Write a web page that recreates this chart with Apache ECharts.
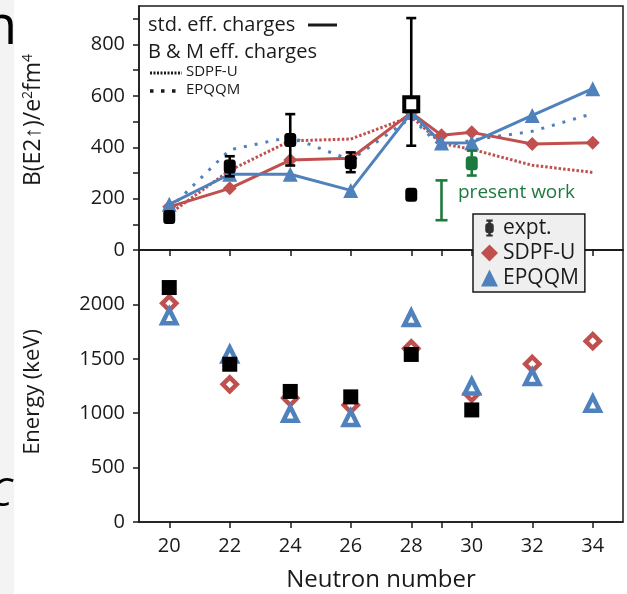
<!DOCTYPE html>
<html>
<head>
<meta charset="utf-8">
<script src="https://cdn.jsdelivr.net/npm/echarts@6/dist/echarts.min.js"></script>
<style>
  html, body { margin: 0; padding: 0; background: #fff; }
  #chart { width: 627px; height: 594px; }
</style>
</head>
<body>
<div id="chart"></div>
<script>
/* ---------- data ---------- */
const nTicks = [20, 22, 24, 26, 28, 29, 30, 32, 34];
const nLabels = [20, 22, 24, 26, 28, 30, 32, 34];

// top panel: B(E2) in e2fm4
const bN = [20, 22, 24, 26, 28, 29, 30, 32, 34];
const bSdpfStd = [168, 240, 350, 357, 535, 447, 458, 413, 418];
const bEpqqmStd = [178, 295, 295, 232, 535, 417, 418, 524, 628];
const bSdpfBM = [140, 310, 425, 432, 520, 415, 392, 330, 302];
const bEpqqmBM = [160, 390, 440, 350, 515, 400, 428, 462, 531];

const exptN = [20, 22, 24, 26, 28, 28];
const exptB = [128, 325, 428, 342, 567, 215];
const exptLo = [116, 287, 329, 303, 406, 203];
const exptHi = [141, 365, 529, 380, 903, 228];
const exptOpen = [0, 0, 0, 0, 1, 0];

const presN = [30];
const presB = [338];
const presLo = [290];
const presHi = [387];
const presKeyN = [29];
const presKeyLo = [116];
const presKeyHi = [271];

// bottom panel: 2+ energies in keV
const eN = [20, 22, 24, 26, 28, 30, 32, 34];
const eExptN = [20, 22, 24, 26, 28, 30];
const eExpt = [2155, 1450, 1200, 1150, 1540, 1030];
const eSdpf = [2010, 1265, 1140, 1075, 1595, 1180, 1452, 1662];
const eEpqqm = [1890, 1540, 995, 955, 1876, 1245, 1332, 1086];

const bTicks = [0, 100, 200, 300, 400, 500, 600, 700, 800, 900];
const bLabels = [0, 200, 400, 600, 800];
const eTicks = [0, 500, 1000, 1500, 2000];

/* ---------- style ---------- */
const FONT = "Open Sans";
const RED = "#c0504d";
const BLUE = "#4f81bd";
const GREEN = "#1d7a3e";
const INK = "#1a1a1a";

const zip = (xs, ys) => xs.map((x, i) => [x, ys[i]]);

function errBars(color, capHalf) {
  return function (params, api) {
    const x = api.value(0);
    const p1 = api.coord([x, api.value(1)]);
    const p2 = api.coord([x, api.value(2)]);
    const st = { stroke: color, lineWidth: 2.6 };
    return {
      type: "group",
      children: [
        { type: "line", shape: { x1: p1[0], y1: p1[1], x2: p2[0], y2: p2[1] }, style: st },
        { type: "line", shape: { x1: p1[0] - capHalf, y1: p1[1], x2: p1[0] + capHalf, y2: p1[1] }, style: st },
        { type: "line", shape: { x1: p2[0] - capHalf, y1: p2[1], x2: p2[0] + capHalf, y2: p2[1] }, style: st },
      ],
    };
  };
}

const axisLine = { lineStyle: { color: INK, width: 1.5 } };
const tickStyle = { lineStyle: { color: INK, width: 1.5 }, length: 6 };
const labelStyle = { color: INK, fontSize: 20, fontFamily: FONT, formatter: (v) => String(v) };

const xAxisBase = {
  type: "value", min: 19, max: 35,
  axisLine, splitLine: { show: false },
  axisTick: Object.assign({ customValues: nTicks }, tickStyle),
};

const exptIcon = "path://M3,0H9V2H7.2V3.2Q10,3.6 10,6V10Q10,12.4 7.2,12.8V14H9V16H3V14H4.8V12.8Q2,12.4 2,10V6Q2,3.6 4.8,3.2V2H3Z";

const option = {
  animation: false,
  backgroundColor: "#ffffff",
  grid: [
    { left: 139, top: 6, width: 484, height: 244, show: true, borderColor: INK, borderWidth: 1.5 },
    { left: 139, top: 250, width: 484, height: 272, show: true, borderColor: INK, borderWidth: 1.5 },
  ],
  xAxis: [
    Object.assign({ gridIndex: 0, axisLabel: { show: false } }, xAxisBase),
    Object.assign({
      gridIndex: 1,
      axisLabel: Object.assign({ customValues: nLabels, margin: 14 }, labelStyle),
      name: "Neutron number", nameLocation: "middle", nameGap: 46,
      nameTextStyle: { color: INK, fontSize: 24, fontFamily: FONT },
    }, xAxisBase),
  ],
  yAxis: [
    {
      gridIndex: 0, type: "value", min: 0, max: 950,
      axisLine, splitLine: { show: false },
      axisTick: Object.assign({ customValues: bTicks }, tickStyle),
      axisLabel: Object.assign({ customValues: bLabels, margin: 14 }, labelStyle),
    },
    {
      gridIndex: 1, type: "value", min: 0, max: 2500,
      axisLine, splitLine: { show: false },
      axisTick: Object.assign({ customValues: eTicks }, tickStyle),
      axisLabel: Object.assign({ customValues: eTicks, margin: 14 }, labelStyle),
    },
  ],
  legend: {
    left: 473, top: 214, orient: "vertical",
    backgroundColor: "#efefef", borderColor: INK, borderWidth: 1.5,
    padding: [3, 6, 3, 8], itemGap: 3, itemWidth: 17, itemHeight: 17,
    textStyle: { color: INK, fontSize: 21, fontFamily: FONT, lineHeight: 22 },
    selectedMode: false,
    data: [
      { name: "expt.", icon: exptIcon, itemStyle: { color: "#000" } },
      { name: "SDPF-U", icon: "diamond", itemStyle: { color: RED } },
      { name: "EPQQM", icon: "triangle", itemStyle: { color: BLUE } },
    ],
  },
  graphic: [
    { type: "rect", shape: { x: 0, y: 0, width: 14, height: 594 }, style: { fill: "#f3f3f3" }, z: -10 },
    { type: "text", x: 17, y: 56, style: { text: "n", font: "54px 'Open Sans'", fill: "#000", textAlign: "right", textVerticalAlign: "bottom" } },
    { type: "text", x: 12, y: 514, style: { text: "C", font: "italic 38px 'Open Sans'", fill: "#000", textAlign: "right", textVerticalAlign: "bottom" } },
    // axis titles
    { type: "text", x: 33, y: 120, rotation: Math.PI / 2,
      style: {
        text: "B(E2↑)/e{s|2}fm{s|4}", font: "23px 'Open Sans'", fill: INK,
        textAlign: "center", textVerticalAlign: "middle",
        rich: { s: { font: "14px 'Open Sans'", fill: INK, padding: [0, 0, 10, 0] } },
      } },
    { type: "text", x: 33, y: 392, rotation: Math.PI / 2,
      style: { text: "Energy (keV)", font: "22px 'Open Sans'", fill: INK, textAlign: "center", textVerticalAlign: "middle" } },
    // annotation key
    { type: "text", x: 148, y: 25, style: { text: "std. eff. charges", font: "20px 'Open Sans'", fill: INK, textVerticalAlign: "middle" } },
    { type: "line", shape: { x1: 308, y1: 25, x2: 337, y2: 25 }, style: { stroke: INK, lineWidth: 3 } },
    { type: "text", x: 148, y: 52, style: { text: "B & M eff. charges", font: "20px 'Open Sans'", fill: INK, textVerticalAlign: "middle" } },
    { type: "line", shape: { x1: 150, y1: 73, x2: 182, y2: 73 }, style: { stroke: INK, lineWidth: 3, lineDash: [2, 1.5] } },
    { type: "text", x: 186, y: 72, style: { text: "SDPF-U", font: "15px 'Open Sans'", fill: INK, textVerticalAlign: "middle" } },
    { type: "line", shape: { x1: 150, y1: 91, x2: 183, y2: 91 }, style: { stroke: INK, lineWidth: 3.5, lineDash: [3.5, 7.5] } },
    { type: "text", x: 186, y: 90, style: { text: "EPQQM", font: "15px 'Open Sans'", fill: INK, textVerticalAlign: "middle" } },
    { type: "text", x: 458, y: 193, style: { text: "present work", font: "19px 'Open Sans'", fill: GREEN, textVerticalAlign: "middle" } },
  ],
  series: [
    /* ---- top panel ---- */
    { type: "line", xAxisIndex: 0, yAxisIndex: 0, data: zip(bN, bSdpfBM), symbol: "none",
      lineStyle: { color: RED, width: 3, type: [2.5, 2] }, z: 2 },
    { type: "line", xAxisIndex: 0, yAxisIndex: 0, data: zip(bN, bEpqqmBM), symbol: "none",
      lineStyle: { color: BLUE, width: 3, type: [3, 8] }, z: 2 },
    { name: "SDPF-U", type: "line", xAxisIndex: 0, yAxisIndex: 0, data: zip(bN, bSdpfStd),
      symbol: "diamond", symbolSize: 14, itemStyle: { color: RED, opacity: 1 }, lineStyle: { color: RED, width: 3 }, z: 3 },
    { name: "EPQQM", type: "line", xAxisIndex: 0, yAxisIndex: 0, data: zip(bN, bEpqqmStd),
      symbol: "triangle", symbolSize: 15, itemStyle: { color: BLUE, opacity: 1 }, lineStyle: { color: BLUE, width: 3 }, z: 3 },
    { type: "custom", xAxisIndex: 0, yAxisIndex: 0, z: 5,
      data: exptN.map((n, i) => [n, exptLo[i], exptHi[i]]), renderItem: errBars("#000", 5) },
    { name: "expt.", type: "scatter", xAxisIndex: 0, yAxisIndex: 0, z: 6,
      data: exptN.map((n, i) => ({
        value: [n, exptB[i]],
        symbol: exptOpen[i] ? "rect" : "roundRect",
        symbolSize: exptOpen[i] ? 14 : [12, 14],
        itemStyle: exptOpen[i]
          ? { color: "#fff", borderColor: "#000", borderWidth: 4, opacity: 1 }
          : { color: "#000", opacity: 1 },
      })) },
    { type: "custom", xAxisIndex: 0, yAxisIndex: 0, z: 5,
      data: presN.map((n, i) => [n, presLo[i], presHi[i]]), renderItem: errBars(GREEN, 5) },
    { type: "custom", xAxisIndex: 0, yAxisIndex: 0, z: 5,
      data: presKeyN.map((n, i) => [n, presKeyLo[i], presKeyHi[i]]), renderItem: errBars(GREEN, 6) },
    { type: "scatter", xAxisIndex: 0, yAxisIndex: 0, z: 6, data: zip(presN, presB),
      symbol: "roundRect", symbolSize: [12, 14], itemStyle: { color: GREEN, opacity: 1 } },

    /* ---- bottom panel ---- */
    { name: "SDPF-U", type: "scatter", xAxisIndex: 1, yAxisIndex: 1, data: zip(eN, eSdpf),
      symbol: "diamond", symbolSize: 14, itemStyle: { color: "#fff", borderColor: RED, borderWidth: 4.5, opacity: 1 }, z: 3 },
    { name: "EPQQM", type: "scatter", xAxisIndex: 1, yAxisIndex: 1, data: zip(eN, eEpqqm),
      symbol: "triangle", symbolSize: 14, itemStyle: { color: "#fff", borderColor: BLUE, borderWidth: 4.5, opacity: 1 }, z: 4 },
    { name: "expt.", type: "scatter", xAxisIndex: 1, yAxisIndex: 1, data: zip(eExptN, eExpt),
      symbol: "rect", symbolSize: 15, itemStyle: { color: "#000", opacity: 1 }, z: 5 },
  ],
};

const chart = echarts.init(document.getElementById("chart"), null, { renderer: "canvas" });
chart.setOption(option);
</script>
</body>
</html>
